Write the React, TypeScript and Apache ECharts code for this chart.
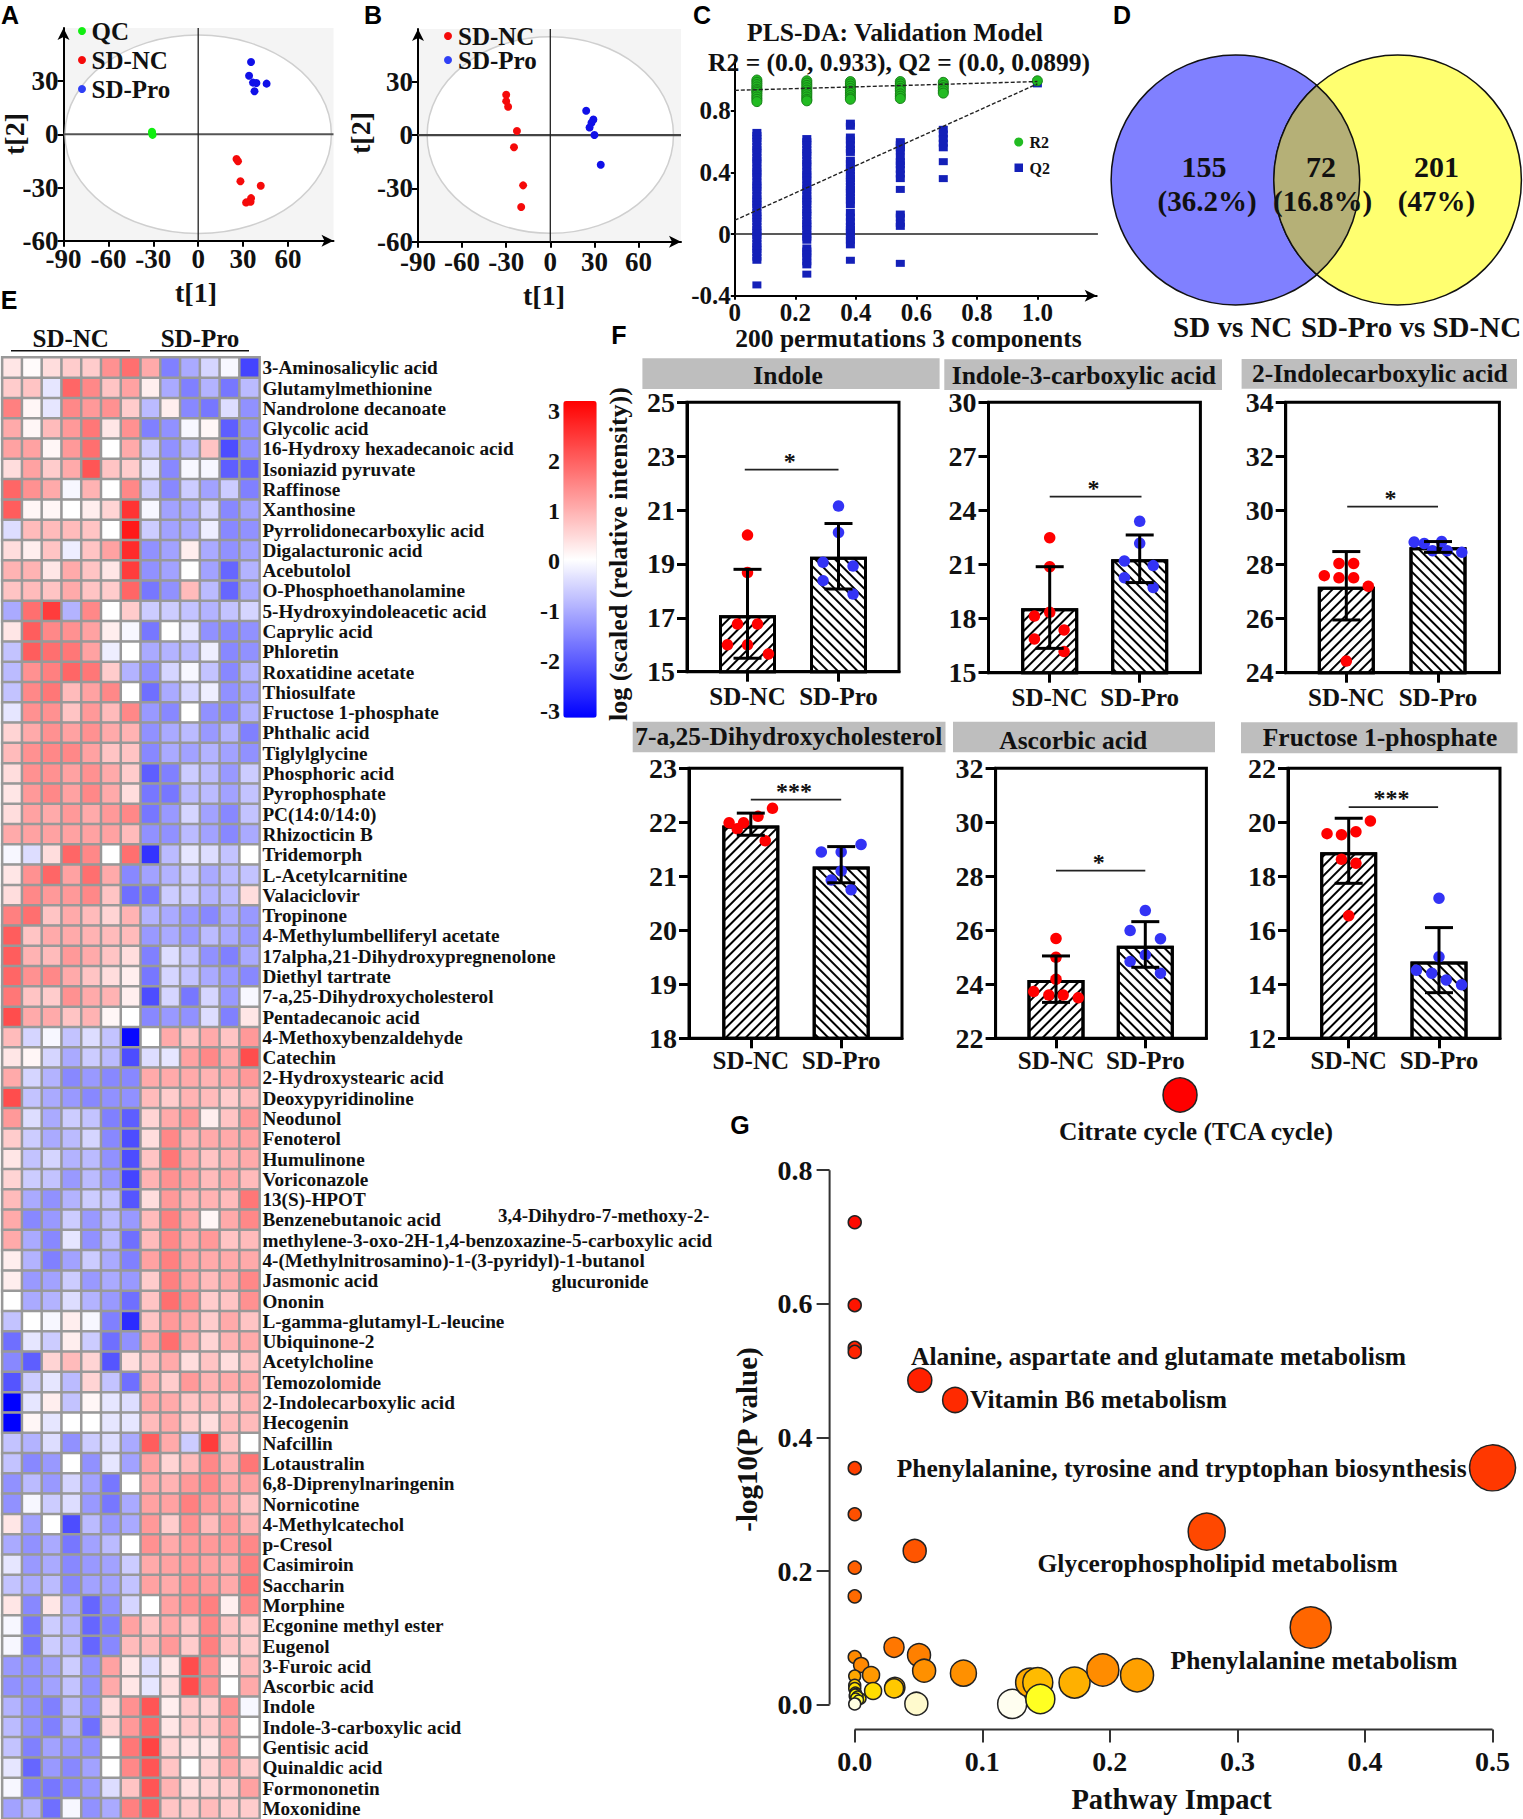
import React, { useEffect, useRef } from "react";
import * as echarts from "echarts";

const SERIF = "Liberation Serif";
const SANS = "Liberation Sans";

// ---------- Panel A / B scores ----------
const aQC = [[-30.8, 0.8], [-30.5, -0.3], [-30.9, 1.5]];
const aNC = [[25.6, -13.9], [26.6, -15.2], [28.2, -26.5], [41.8, -29], [35.3, -36], [35, -38], [32, -38.4]];
const aPro = [[35.3, 40.8], [34, 33.1], [36.6, 29.2], [38.9, 29], [45.7, 28.6], [37.6, 24.3]];
const bNC = [[-30, 22.7], [-30, 19.1], [-28.7, 15.9], [-22.7, 2.3], [-24.7, -6.8], [-18.5, -28.3], [-19.8, -40.5]];
const bPro = [[24.4, 13.7], [29.3, 8.8], [28, 6.9], [26.7, 4.3], [30, 0], [34.3, -16.7]];
const scoreXTicks = [-90, -60, -30, 0, 30, 60];
const scoreYTicks = [-60, -30, 0, 30];

// ---------- Panel C permutations ----------
const permX = [0.073, 0.238, 0.382, 0.547, 0.689, 1.0];
const r2Cols = [
  [1.0, 0.985, 0.97, 0.955, 0.94, 0.93, 0.92, 0.905, 0.89, 0.875, 0.86],
  [0.995, 0.98, 0.965, 0.95, 0.935, 0.92, 0.905, 0.89, 0.875, 0.865],
  [0.99, 0.975, 0.96, 0.945, 0.93, 0.915, 0.9, 0.885, 0.875],
  [0.99, 0.975, 0.96, 0.945, 0.93, 0.91, 0.895, 0.88],
  [0.985, 0.965, 0.95, 0.93, 0.915],
  [0.995],
];
const q2Cols = [
  [0.66, 0.64, 0.62, 0.6, 0.57, 0.55, 0.53, 0.5, 0.48, 0.46, 0.43, 0.41, 0.39, 0.37, 0.34, 0.32, 0.3, 0.28, 0.25, 0.23, 0.21, 0.19, 0.17, 0.14, 0.12, 0.1, 0.08, 0.05, 0.03, 0.01, -0.01, -0.03, -0.06, -0.08, -0.1, -0.12, -0.15, -0.17, -0.33],
  [0.62, 0.6, 0.58, 0.55, 0.53, 0.51, 0.48, 0.46, 0.44, 0.41, 0.39, 0.37, 0.35, 0.32, 0.3, 0.28, 0.25, 0.23, 0.21, 0.19, 0.16, 0.14, 0.12, 0.09, 0.07, 0.05, 0.03, 0.0, -0.02, -0.04, -0.09, -0.11, -0.13, -0.15, -0.18, -0.2, -0.26],
  [0.72, 0.7, 0.63, 0.61, 0.58, 0.55, 0.53, 0.48, 0.46, 0.43, 0.41, 0.38, 0.36, 0.34, 0.31, 0.29, 0.27, 0.24, 0.22, 0.19, 0.14, 0.11, 0.08, 0.05, 0.03, 0.01, -0.02, -0.04, -0.07, -0.17],
  [0.6, 0.58, 0.56, 0.54, 0.5, 0.47, 0.45, 0.42, 0.39, 0.36, 0.29, 0.13, 0.11, 0.07, 0.05, -0.19],
  [0.68, 0.65, 0.62, 0.59, 0.56, 0.47, 0.36],
  [0.975],
];
const r2Line = [[0, 0.933], [1, 0.99]];
const q2Line = [[0, 0.0899], [1, 0.975]];
const permXTicks = [0, 0.2, 0.4, 0.6, 0.8, 1.0];
const permYTicks = [-0.4, 0, 0.4, 0.8];

// ---------- Panel E heatmap ----------
const metabolites = [
  "3-Aminosalicylic acid", "Glutamylmethionine", "Nandrolone decanoate", "Glycolic acid", "16-Hydroxy hexadecanoic acid", "Isoniazid pyruvate",
  "Raffinose", "Xanthosine", "Pyrrolidonecarboxylic acid", "Digalacturonic acid", "Acebutolol", "O-Phosphoethanolamine",
  "5-Hydroxyindoleacetic acid", "Caprylic acid", "Phloretin", "Roxatidine acetate", "Thiosulfate", "Fructose 1-phosphate",
  "Phthalic acid", "Tiglylglycine", "Phosphoric acid", "Pyrophosphate", "PC(14:0/14:0)", "Rhizocticin B",
  "Tridemorph", "L-Acetylcarnitine", "Valaciclovir", "Tropinone", "4-Methylumbelliferyl acetate", "17alpha,21-Dihydroxypregnenolone",
  "Diethyl tartrate", "7-a,25-Dihydroxycholesterol", "Pentadecanoic acid", "4-Methoxybenzaldehyde", "Catechin", "2-Hydroxystearic acid",
  "Deoxypyridinoline", "Neodunol", "Fenoterol", "Humulinone", "Voriconazole", "13(S)-HPOT",
  "Benzenebutanoic acid", "methylene-3-oxo-2H-1,4-benzoxazine-5-carboxylic acid", "4-(Methylnitrosamino)-1-(3-pyridyl)-1-butanol", "Jasmonic acid", "Ononin", "L-gamma-glutamyl-L-leucine",
  "Ubiquinone-2", "Acetylcholine", "Temozolomide", "2-Indolecarboxylic acid", "Hecogenin", "Nafcillin",
  "Lotaustralin", "6,8-Diprenylnaringenin", "Nornicotine", "4-Methylcatechol", "p-Cresol", "Casimiroin",
  "Saccharin", "Morphine", "Ecgonine methyl ester", "Eugenol", "3-Furoic acid", "Ascorbic acid",
  "Indole", "Indole-3-carboxylic acid", "Gentisic acid", "Quinaldic acid", "Formononetin", "Moxonidine",
];
const heatValues = [
  [0.3, 0.05, 0.4, 0.6, 0.6, 1.3, 1.7, 1.0, -1.5, -1.0, -0.5, -0.1, -2.2],
  [0.6, 0.7, -0.3, 1.8, 1.4, 0.7, 1.1, 0.2, -1.0, -1.5, -0.9, -1.6, -0.8],
  [1.5, 0.1, -0.3, 1.4, 1.2, 1.3, 0.6, -0.8, 0.2, -1.4, -1.6, -0.4, -1.3],
  [1.0, 0.1, 0.8, 1.2, 1.6, 0.3, 1.3, -1.5, -1.3, -0.1, 0.1, -1.9, -1.3],
  [1.1, 1.1, 0.1, 1.2, 1.7, 0, 1.0, -0.6, -1.3, -0.8, 0.7, -2.1, -1.3],
  [0.4, 1.1, 0.6, 1.0, 2.0, 0.7, 0.6, -0.3, -1.4, -0.1, -0.1, -1.9, -1.8],
  [1.8, 1.3, 1.0, -0.1, 0.9, 0, 1.4, -0.6, -1.4, -0.6, -1.1, -0.6, -1.5],
  [1.9, 0.1, 0.1, 0, 0.2, 0.5, 2.4, -0.1, -1.1, -1, -0.5, -1.4, -1.1],
  [-0.4, 0.8, 0.8, 0.8, 0.7, 0, 2.7, -0.6, -1.1, -1, -0.2, -1.4, -1.3],
  [0.4, 0.2, 0.7, -0.2, 0.7, 1.1, 2.5, -1.3, -1.1, 0.2, -1.0, -1.3, -1.1],
  [0.9, 0.9, 0.3, 1.0, 0.7, 0.3, 2.3, -1.3, -1.1, 0, -1.1, -1.8, -0.9],
  [0.7, 0.8, 0.7, 1.0, 0.7, 0.6, 1.8, -1.6, -1.3, 0.8, -0.8, -1.8, -1],
  [-1.0, 1.7, 2.3, -0.9, 1.4, 0, 0.6, -0.6, -0.6, -0.7, -0.9, -0.7, -0.5],
  [0.3, 1.9, 1.4, 1.3, 1.1, 0.2, -0.1, -1.6, 0, -0.3, -1.3, -1.4, -1.3],
  [-0.7, 1.9, 1.7, 1.6, 1.1, -0.2, 0, -1, -0.9, -0.8, -0.2, -1.4, -1.3],
  [-0.8, 1.3, 1.5, 1.8, 1.6, 0.6, -0.9, -1.3, -0.5, -0.1, -0.7, -1.4, -0.9],
  [-0.7, 1.4, 1.6, 0.8, 1.1, 1.4, 0, -1.7, -1, -0.5, -0.2, -1.3, -1.1],
  [-0.3, 1.3, 1.3, 0.7, 1.2, 0.8, 1.4, -1.2, -1.4, 0, -1.3, -1.4, -0.9],
  [0.5, 1, 1.3, 1.1, 1.3, 1, 0.9, -1.3, -1, -0.8, -1.2, -0.9, -1.5],
  [0.8, 1.3, 1.4, 1.4, 1.1, 0.7, 0.7, -1.4, -1, -1.1, -0.9, -1.1, -1.3],
  [0.4, 1.3, 1.3, 1.1, 1.3, 1, 0.6, -1.9, -1.5, -0.6, -0.8, -1.2, -0.6],
  [0.3, 1.2, 1.4, 1.1, 1.4, 1, 0.4, -1.6, -1.6, -0.8, -0.8, -1.1, -0.7],
  [0.4, 1.1, 1, 1.2, 1, 1.2, 1.4, -1.6, -1.2, -0.5, -1.1, -1.4, -0.7],
  [1, 1.1, 1.1, 1.1, 1.1, 1.1, 0.8, -1.3, -1.3, -0.8, -1.1, -1.4, -1],
  [-0.1, -0.4, 0.4, 1.8, 1.4, 0, 1.7, -2.4, -0.8, -0.3, -0.4, -0.7, 0],
  [0.3, 1.3, 1.8, 1.1, 1.7, 1, -1.4, -1.1, -0.9, -0.6, -1, -0.8, -0.7],
  [0.4, 1.4, 1.2, 1.2, 1.4, 0.7, -1.7, -1.6, -0.6, -0.6, -0.9, -0.8, 0.4],
  [1.5, 1.7, 0.7, 1.0, 0.8, 0.5, 0.9, -0.9, -1, -1.2, -1.4, -1, -1.2],
  [1.9, 0.7, 1, 1, 0.9, 0.8, 0.8, -1.2, -1, -1.2, -0.8, -1, -1.2],
  [1.9, 0.9, 0.8, 1.2, 1, 0.7, 0.4, -1.5, -0.4, -0.7, -1.3, -1.5, -1],
  [1.8, 1.3, 1.4, 1, 0.7, 0.4, 0.2, -1.6, -0.5, -0.7, -1, -1.2, -1.4],
  [1.6, 0.7, 0.6, 1.3, 1, 0.9, 0.2, -2.1, -0.5, -1.6, -0.5, -1.2, -0.1],
  [2.1, 1, 1, 0.7, 0.9, 0.1, 0, -1.4, -1.2, -1.3, -0.4, -1.5, 0.3],
  [0.8, -0.5, -0.1, -0.7, -0.4, -0.7, -2.9, 0, 1, 0.7, 1, 0.7, 1.2],
  [0.3, 0.1, -0.5, -1, -0.6, -0.8, -2.1, -0.4, -0.3, 1.1, 1.4, 1, 2.1],
  [1, -0.5, -0.9, -1.4, -1.2, -1.4, -1.4, 1, 1, 1, 0.9, 1, 1.2],
  [2.1, -0.7, -1, -1.2, -1.4, -1.3, -1.3, 0.8, 0.6, 0.9, 0.8, 0.6, 0.8],
  [1.2, -0.4, -1, -0.6, -0.7, -1.5, -1.9, 0.5, 1, 1.2, 0.2, 0.7, 1.2],
  [0.6, -0.6, -1, -0.8, -0.5, -1.4, -2.1, 0.4, 1.4, 0.9, 1, 1, 1.1],
  [0.3, -0.7, -0.5, -0.9, -0.8, -1.3, -2.1, 0.7, 1.6, 1, 0.7, 0.9, 1],
  [0.5, -0.6, -0.7, -1.2, -0.8, -1.2, -2.2, 0.9, 1.3, 1.1, 0.8, 1, 0.8],
  [0.8, -1, -1.3, -0.9, -0.6, -0.7, -2, 0.4, 1.2, 0.9, 0.9, 0.8, 1.6],
  [1, -1.4, -1.2, -0.6, -1.2, -0.8, -1.2, 0.8, 1.5, 1, 0.1, 1, 1.4],
  [1, -1, -1.4, -0.3, -1.3, -0.8, -1.7, 0.8, 1.4, 1, 1.2, 0.7, 0.8],
  [0.2, -0.9, -1.5, -1.1, -0.6, -1, -1.5, 1.1, 1.5, 1.1, 1, 1, 1],
  [0.2, -1.2, -1.1, -0.6, -1.2, -1, -1.2, 0.6, 1.5, 1.1, 0.8, 1, 1.4],
  [0, -1, -0.9, -0.4, -0.9, -1.2, -1.7, 0.7, 1.7, 1.3, 0.6, 0.7, 1.3],
  [-0.7, 0, -0.1, 0.2, -0.1, -1.5, -2.5, 0.7, 1.2, 1, 0.6, 1, 0.7],
  [-1.7, -0.3, -0.6, 0.2, -0.6, -1.7, -1.3, 1, 1.7, 1, 0.5, 0.9, 1],
  [-1.4, -1.9, 0.5, 0.8, 0.5, -2, 0.4, 0.7, 1, 0.4, 0.7, 0.4, 0.7],
  [-2.0, -0.6, -0.3, -0.8, 0.5, -0.7, -1.7, 0.9, 0.6, 1.2, 0.9, 1, 1],
  [-3, -0.3, 0.2, -0.7, 0.1, -0.3, -0.4, 1, 1, 0.7, 0.8, 0.6, 0.9],
  [-3, 0.1, -0.3, 0, 0, -0.3, -0.3, 0.8, 1, 0.6, 0.4, 0.8, 0.8],
  [-0.7, -0.9, -0.4, -1.3, -0.6, -0.4, -1, 1.9, 1, -0.6, 2.3, 0.7, 0],
  [-0.7, -1.4, -1.2, 0, -1.3, -0.3, -1.1, 1.1, 0.5, 0.8, 1.4, 0.9, 1.6],
  [-1.3, -0.8, -1.2, -0.5, -1.1, -1.6, 0, 1, 0.9, 1.2, 1.4, 1, 1.1],
  [-1.3, -0.1, -0.6, -0.4, -1.2, -1.6, -1, 1.1, 1.1, 1.5, 1.2, 1, 0.7],
  [0.3, -1.1, 0, -2.1, -0.8, -1.2, -1, 1.2, 0.6, 1.3, 0.8, 1.2, 0.9],
  [-1, -1.3, -1, -1.6, -1.1, -0.8, 0, 1.3, 1, 1.2, 1.2, 1.2, 1.4],
  [-0.3, -1.2, -1, -1.4, -1.2, -1.1, -0.6, 1, 1.1, 1.2, 1.1, 1, 1.5],
  [-0.7, -1, -0.8, -1.4, -1.1, -1.1, -0.7, 1.1, 1, 1.3, 1.2, 1, 1.6],
  [0.3, -1.4, 0.3, -1, -1.8, -1.3, -0.5, 0, 1.1, 1.3, 1.5, 0.2, 1.4],
  [-0.1, -1.6, -0.6, -0.9, -1.8, -1.5, 1.1, 0.7, 1, 0.7, 1.4, 0.7, 0.6],
  [-0.1, -1.6, -0.6, -0.8, -1.8, -1.4, 0.8, 0.8, 1.2, 0.6, 1.5, 0.7, 0.6],
  [-1.2, -1.3, -1.1, -0.6, -1.3, 1.1, 0.3, -0.4, 0.3, 2.1, 1.3, 0.1, 0.8],
  [-1.3, -1.3, -1.1, -0.7, -1.3, 1, 0.3, -0.3, 0.4, 2.1, 1.3, 0, 1],
  [-0.9, -1.3, -1.5, -0.8, -1.3, 0.4, 1.3, 2.0, 0.2, 0.6, 0.5, 1.3, -0.1],
  [-0.8, -1.3, -1.5, -0.9, -1.7, 0.5, 1.2, 1.8, 0.3, 0.6, 0.6, 1.1, 0],
  [-0.7, -1.5, -1.1, -1.2, -1.3, 0, 1.6, 2.2, 0.5, 0.3, 0.3, 1.1, 0],
  [-0.3, -1.8, -1.2, -1.4, -1.1, 0, 1.4, 2, 0.7, 0, 0.5, 1, 0.6],
  [-0.1, -1.5, -1.6, -1.4, -1.2, -0.4, 0.7, 2, 0.9, 0.4, 0.5, 0.6, 1.1],
  [-1.1, -0.9, -1.7, -0.1, -1.3, -1, 1.5, 1.9, 0.7, 0.6, 0.8, 0.6, 0.6],
];
const heatColumns = ["1", "2", "3", "4", "5", "6", "7", "8", "9", "10", "11", "12", "13"];
const colorbarLabels = ["3", "2", "1", "0", "-1", "-2", "-3"];

// ---------- Panel F bars ----------
const groupNames = ["SD-NC", "SD-Pro"];
const indoleNC = [[1, 20.07], [1, 18.68], [0.89, 16.77], [1.11, 16.77], [0.78, 16], [1, 16], [1.23, 15.66]];
const indolePro = [[2, 21.15], [2, 20.17], [1.83, 19.06], [2.16, 18.92], [1.83, 18.38], [2.16, 17.88]];
const i3caNC = [[1, 22.49], [1, 20.88], [0.83, 18.14], [1, 18.35], [1.16, 17.37], [0.83, 16.87], [1.16, 16.17]];
const i3caPro = [[2, 23.4], [2, 22.18], [1.83, 21.2], [2.15, 20.94], [1.83, 20.27], [2.15, 19.72]];
const i2caNC = [[1, 24.43], [1.24, 27.2], [0.76, 27.59], [0.92, 27.51], [1.08, 27.51], [0.92, 28.04], [1.08, 28.04]];
const i2caPro = [[1.74, 28.83], [1.85, 28.78], [2.04, 28.85], [1.94, 28.51], [2.1, 28.51], [2.26, 28.45]];
const dhcNC = [[0.76, 21.99], [0.85, 21.88], [0.92, 21.99], [1.08, 22.11], [1.24, 22.26], [1.16, 21.66]];
const dhcPro = [[1.78, 21.45], [2, 21.45], [2.22, 21.59], [2, 21.1], [1.89, 20.93], [2.11, 20.75]];
const ascNC = [[1, 25.7], [1, 25], [1, 24.19], [0.75, 23.73], [0.92, 23.6], [1.08, 23.6], [1.25, 23.5]];
const ascPro = [[2, 26.73], [1.83, 25.99], [2.17, 25.69], [2, 25.09], [1.83, 24.84], [2.17, 24.41]];
const f1pNC = [[1.24, 20.05], [1.08, 19.65], [0.76, 19.58], [0.92, 19.54], [0.92, 18.63], [1.08, 18.48], [1, 16.54]];
const f1pPro = [[2, 17.19], [2, 15.02], [1.75, 14.52], [1.92, 14.41], [2.08, 14.16], [2.25, 13.98]];

const barPanels = [
  { title: "Indole", head: [642.4, 358.3, 939.6, 389], tx: 788, ty: 375.7, box: [687, 402.3, 899, 671.7], cx: [747.5, 838.5], ticks: [15, 17, 19, 21, 23, 25], means: [17.1, 19.27], errs: [[15.5, 18.8], [18.07, 20.5]], nc: indoleNC, pro: indolePro, sig: [0.97, 2, 22.5], stars: "*" },
  { title: "Indole-3-carboxylic acid", head: [944.3, 359.3, 1222, 390], tx: 1083.8, ty: 375.7, box: [988.5, 402.3, 1200.4, 672.7], cx: [1049.7, 1139.7], ticks: [15, 18, 21, 24, 27, 30], means: [18.57, 21.29], errs: [[16.35, 20.88], [20, 22.64]], nc: i3caNC, pro: i3caPro, sig: [1, 2.02, 24.77], stars: "*" },
  { title: "2-Indolecarboxylic acid", head: [1241.6, 359, 1517, 388.7], tx: 1379.8, ty: 373, box: [1285.7, 402.3, 1499.4, 672.7], cx: [1346.3, 1438], ticks: [24, 26, 28, 30, 32, 34], means: [27.18, 28.64], errs: [[25.95, 28.48], [28.45, 28.85]], nc: i2caNC, pro: i2caPro, sig: [1.01, 2, 30.14], stars: "*" },
  { title: "7-a,25-Dihydroxycholesterol", head: [632.7, 721.7, 945.5, 752.3], tx: 788.8, ty: 736.7, box: [689, 768.3, 902, 1038.3], cx: [750.8, 841.2], ticks: [18, 19, 20, 21, 22, 23], means: [21.94, 21.18], errs: [[21.76, 22.17], [20.88, 21.55]], nc: dhcNC, pro: dhcPro, sig: [1, 2, 22.42], stars: "***" },
  { title: "Ascorbic acid", head: [953, 721.7, 1215, 752.3], tx: 1073.3, ty: 740, box: [995.6, 768.3, 1206.4, 1038.3], cx: [1056, 1145.3], ticks: [22, 24, 26, 28, 30, 32], means: [24.16, 25.43], errs: [[23.33, 25.05], [24.63, 26.32]], nc: ascNC, pro: ascPro, sig: [1, 2, 28.21], stars: "*" },
  { title: "Fructose 1-phosphate", head: [1241, 722.3, 1517.5, 753.3], tx: 1380, ty: 737, box: [1288, 768.3, 1500, 1038.3], cx: [1348.7, 1439], ticks: [12, 14, 16, 18, 20, 22], means: [18.89, 14.84], errs: [[17.74, 20.15], [13.69, 16.1]], nc: f1pNC, pro: f1pPro, sig: [1, 1.99, 20.56], stars: "***" },
];

// ---------- Panel G pathway bubbles ----------
const pathImpact = [0, 0, 0, 0, 0, 0, 0, 0, 0.047, 0.051, 0.0787, 0.2759, 0.3574, 0.5, 0, 0.005, 0, 0.0128, 0.0308, 0.0504, 0.0544, 0.0315, 0.0308, 0.0144, 0.0852, 0.0483, 0.1234, 0.1375, 0.1435, 0.1455, 0.1723, 0.1945, 0.2213, 0, 0, 0.0005, 0.0045, 0, 0.0012, 0.0003, 0.0022, 0.0008, 0.003, 0, 0.255];
const pathLogP = [0.722, 0.598, 0.534, 0.528, 0.354, 0.285, 0.205, 0.162, 0.23, 0.4856, 0.456, 0.2589, 0.1154, 0.3544, 0.0713, 0.0593, 0.0428, 0.0443, 0.0858, 0.0742, 0.0507, 0.0258, 0.0242, 0.0204, 0.047, 0.0013, 0.001, 0.033, 0.033, 0.0084, 0.033, 0.0518, 0.044, 0.029, 0.024, 0.018, 0.009, 0.013, 0.016, 0.015, 0.012, 0.01, 0.007, 0.001, 0.9126];
const pathDiameter = [13, 13, 13, 13, 13, 13, 13, 13, 23, 24, 25, 37, 41, 46, 13, 15, 12, 17, 20, 23, 23, 20, 19, 17, 26, 23, 29, 29, 30, 29, 31, 32, 33, 12, 12, 11, 11, 11, 11, 11, 11, 10, 10, 12, 34];
const pathColor = ["#FF0A00", "#FF1400", "#FF2000", "#FF2400", "#FF4000", "#FF5000", "#FF6000", "#FF6A00", "#FF5500", "#FF2000", "#FF2A00", "#FF4800", "#FF6600", "#FF3800", "#FF8A00", "#FF8800", "#FFA800", "#FF9800", "#FF7700", "#FF8000", "#FF9000", "#FFAA00", "#FFC800", "#FFDD00", "#FF9000", "#FFFACD", "#FFFEF0", "#FFAA00", "#FFBB00", "#FFFF22", "#FFB000", "#FF8C00", "#FFA000", "#FFD000", "#FFE000", "#FFF000", "#FFEE00", "#FFF800", "#FFF000", "#FFF400", "#FFF800", "#FFFA00", "#FFFC40", "#FFFFE0", "#FF0000"];
const pathXTicks = [0, 0.1, 0.2, 0.3, 0.4, 0.5];
const pathYTicks = [0, 0.2, 0.4, 0.6, 0.8];

const legendA = [["QC", "#11EE11"], ["SD-NC", "#F50A0A"], ["SD-Pro", "#2F3FF5"]];
const legendB = [["SD-NC", "#F50A0A"], ["SD-Pro", "#2F3FF5"]];

// ---------- helpers ----------
const T = (x: number, y: number, text: string, size: number, o: any = {}) => ({
  type: "text", x, y, rotation: o.rot || 0, z: 20, silent: true,
  style: {
    text, fontSize: size, fontFamily: o.family || SERIF, fontWeight: "bold", fill: o.fill || "#111",
    textAlign: o.align || "center", align: o.align || "center", textVerticalAlign: "middle", verticalAlign: "middle",
  },
});

const vAxis = (gridIndex: number, min: number, max: number, ticks: number[], o: any = {}) => ({
  type: "value", gridIndex, min, max, scale: true, splitLine: { show: false }, splitArea: { show: false },
  axisLine: {
    show: o.noLine ? false : true, onZero: false,
    lineStyle: { color: o.color || "#000", width: o.width || 2 },
    symbol: o.arrow ? ["none", "arrow"] : "none", symbolSize: [9, 12],
  },
  axisTick: { show: true, inside: false, customValues: ticks, length: o.tick ?? 6, lineStyle: { color: o.color || "#000", width: o.width || 2 } },
  axisLabel: {
    show: true, customValues: ticks, fontFamily: SERIF, fontWeight: "bold", fontSize: o.size || 25, color: "#111",
    margin: o.margin ?? 8, formatter: o.fmt || ((v: number) => String(v)), hideOverlap: false,
  },
});

const lineS = (xi: number, data: number[][], color: string, width: number, type: any = "solid", z = 3) => ({
  type: "line", xAxisIndex: xi, yAxisIndex: xi, data, symbol: "none", silent: true, clip: false, z,
  lineStyle: { color, width, type }, animation: false,
});

const dots = (xi: number, data: number[][], color: string, size: any, extra: any = {}) => ({
  type: "scatter", xAxisIndex: xi, yAxisIndex: xi, data, symbol: "circle", symbolSize: size, silent: true, clip: false, z: 6,
  itemStyle: { color, opacity: 1, ...extra }, animation: false,
});

const ellipseS = (xi: number, cx: number, cy: number, rx: number, ry: number) => ({
  type: "custom", xAxisIndex: xi, yAxisIndex: xi, data: [[cx, cy]], silent: true, z: 1,
  renderItem: (_p: any, api: any) => {
    const c = api.coord([cx, cy]);
    const e = api.coord([cx + rx, cy + ry]);
    return { type: "ellipse", shape: { cx: c[0], cy: c[1], rx: Math.abs(e[0] - c[0]), ry: Math.abs(e[1] - c[1]) }, style: { fill: "#fff", stroke: "#cfcfcf", lineWidth: 1.5 } };
  },
});

function buildOption() {
  const grid: any[] = [];
  const xAxis: any[] = [];
  const yAxis: any[] = [];
  const series: any[] = [];
  const graphic: any[] = [];
  const add = (left: number, top: number, right: number, bottom: number, g: any = {}) => {
    grid.push({ left, top, width: right - left, height: bottom - top, containLabel: false, ...g });
    return grid.length - 1;
  };

  // panel letters
  ([["A", 10, 15], ["B", 373, 15], ["C", 702, 15], ["D", 1122, 15], ["E", 9, 300], ["F", 619, 335], ["G", 740, 1125]] as any[]).forEach(([t, x, y]) =>
    graphic.push(T(x, y, t, 25, { family: SANS, fill: "#000" }))
  );

  // Panel A
  {
    const g = add(63.5, 28, 333.5, 240.7, { show: true, backgroundColor: "#F4F4F4", borderWidth: 0 });
    xAxis.push(vAxis(g, -90, 90.4, scoreXTicks, { arrow: true, margin: 5, size: 27 }));
    yAxis.push(vAxis(g, -60, 60, scoreYTicks, { arrow: true, margin: 5, size: 27 }));
    series.push(ellipseS(g, 0, 0, 89, 56));
    series.push(lineS(g, [[-90, 0], [90.4, 0]], "#555", 2));
    series.push(lineS(g, [[0, -60], [0, 60]], "#222", 1.3));
    series.push(dots(g, aQC, "#11EE11", 8), dots(g, aNC, "#F50A0A", 8), dots(g, aPro, "#1010E8", 8));
    graphic.push(T(196, 292.7, "t[1]", 28), T(14.5, 134, "t[2]", 28, { rot: Math.PI / 2 }));
    legendA.forEach(([n, c], i) => {
      const y = 31 + i * 29;
      graphic.push({ type: "circle", shape: { cx: 82, cy: y, r: 4 }, style: { fill: c }, z: 20, silent: true });
      graphic.push(T(91.5, y, n, 25, { align: "left" }));
    });
  }
  // Panel B
  {
    const g = add(418, 29, 681, 241.7, { show: true, backgroundColor: "#F4F4F4", borderWidth: 0 });
    xAxis.push(vAxis(g, -90, 88.9, scoreXTicks, { arrow: true, margin: 7, size: 27 }));
    yAxis.push(vAxis(g, -60, 59.7, scoreYTicks, { arrow: true, margin: 5, size: 27 }));
    series.push(ellipseS(g, 0, 0, 83.8, 55.3));
    series.push(lineS(g, [[-90, 0], [88.9, 0]], "#444", 2.2));
    series.push(lineS(g, [[0, -60], [0, 59.7]], "#222", 1.3));
    series.push(dots(g, bNC, "#F50A0A", 8), dots(g, bPro, "#1010E8", 8));
    graphic.push(T(544, 295, "t[1]", 28), T(360, 133, "t[2]", 28, { rot: Math.PI / 2 }));
    legendB.forEach(([n, c], i) => {
      const y = 36 + i * 24;
      graphic.push({ type: "circle", shape: { cx: 448, cy: y, r: 4 }, style: { fill: c }, z: 20, silent: true });
      graphic.push(T(458, y, n, 25, { align: "left" }));
    });
  }
  // Panel C
  {
    const g = add(734.8, 60, 1096.7, 295.7);
    const fmtC = (v: number) => (v === 0 ? "0" : v.toFixed(1));
    xAxis.push(vAxis(g, 0, 1.196, permXTicks, { arrow: true, margin: 4, size: 25, tick: 4, fmt: fmtC }));
    yAxis.push(vAxis(g, -0.4, 1.13, permYTicks, { margin: 4, size: 25, tick: 4, fmt: fmtC }));
    series.push(lineS(g, [[0, 0], [1.2, 0]], "#222", 1.5));
    q2Cols.forEach((c, i) => series.push({
      type: "scatter", xAxisIndex: g, yAxisIndex: g, symbol: "rect", symbolSize: [9, 7], silent: true, clip: false, z: 4,
      itemStyle: { color: "#1420B8", opacity: 1 }, data: c.map((v) => [permX[i], v]),
    }));
    r2Cols.forEach((c, i) => series.push(dots(g, c.map((v) => [permX[i], v]), "#22BB22", 10, { borderColor: "#178017", borderWidth: 1 })));
    series.push(lineS(g, r2Line, "#222", 1.4, [4, 2], 8), lineS(g, q2Line, "#222", 1.4, [4, 2], 8));
    graphic.push(T(895, 32, "PLS-DA: Validation Model", 25.6), T(899, 62, "R2 = (0.0, 0.933), Q2 = (0.0, 0.0899)", 25.5));
    graphic.push(T(908.5, 338, "200 permutations 3 components", 25.5));
    graphic.push({ type: "circle", shape: { cx: 1018.7, cy: 142, r: 4.5 }, style: { fill: "#22BB22" }, z: 20, silent: true });
    graphic.push({ type: "rect", shape: { x: 1014.5, y: 163.5, width: 8.5, height: 8.5 }, style: { fill: "#1420B8" }, z: 20, silent: true });
    graphic.push(T(1029.5, 142, "R2", 16, { align: "left" }), T(1029.5, 168, "Q2", 16, { align: "left" }));
  }
  // Panel D
  {
    graphic.push({ type: "ellipse", shape: { cx: 1235.6, cy: 180, rx: 124.5, ry: 125 }, style: { fill: "#8080FF", stroke: "#111", lineWidth: 1.5 }, z: 1, silent: true });
    graphic.push({ type: "ellipse", shape: { cx: 1397.7, cy: 180, rx: 123.7, ry: 125 }, style: { fill: "#FFFF70", stroke: "#111", lineWidth: 1.5 }, z: 2, silent: true });
    graphic.push({ type: "vennLens", x: 0, y: 0, z: 3, silent: true, style: { fill: "#B5B077", stroke: "#111", lineWidth: 1.5 } });
    graphic.push(T(1204, 166, "155", 30), T(1207, 201, "(36.2%)", 29), T(1321, 166, "72", 30), T(1322.5, 201, "(16.8%)", 29), T(1436.5, 166, "201", 30), T(1436.5, 201, "(47%)", 29));
    graphic.push(T(1232.7, 327, "SD vs NC", 29), T(1411, 327, "SD-Pro vs SD-NC", 29));
  }
  // Panel E
  let heatIdx = 0;
  {
    const g = add(2.4, 357.6, 259.4, 1818.5);
    xAxis.push({ type: "category", gridIndex: g, data: heatColumns, show: false });
    yAxis.push({
      type: "category", gridIndex: g, data: metabolites, inverse: true, position: "right",
      axisLine: { show: false }, axisTick: { show: false }, splitLine: { show: false },
      axisLabel: { interval: 0, fontFamily: SERIF, fontWeight: "bold", fontSize: 19.2, color: "#111", margin: 3 },
    });
    const data: number[][] = [];
    heatValues.forEach((row, r) => row.forEach((v, c) => data.push([c, r, v])));
    heatIdx = series.length;
    series.push({
      type: "heatmap", xAxisIndex: g, yAxisIndex: g, data, silent: true,
      itemStyle: { borderColor: "#999", borderWidth: 2.5 }, progressive: 0,
    });
    graphic.push(T(70.7, 338, "SD-NC", 25), T(200, 338, "SD-Pro", 25));
    graphic.push({ type: "line", shape: { x1: 11, y1: 350.7, x2: 130, y2: 350.7 }, style: { stroke: "#111", lineWidth: 1.6 }, silent: true });
    graphic.push({ type: "line", shape: { x1: 150, y1: 350.7, x2: 249, y2: 350.7 }, style: { stroke: "#111", lineWidth: 1.6 }, silent: true });
    graphic.push(T(498, 1215, "3,4-Dihydro-7-methoxy-2-", 19, { align: "left" }), T(551.7, 1281.7, "glucuronide", 19, { align: "left" }));
    colorbarLabels.forEach((t, i) => graphic.push(T(560, 410.7 + i * 50.05, t, 24, { align: "right" })));
    graphic.push(T(618, 554, "log (scaled (relative intensity))", 26, { rot: Math.PI / 2 }));
  }
  // Panel F
  barPanels.forEach((p) => {
    const [l, t, r, b] = p.box;
    const pitch = p.cx[1] - p.cx[0];
    const xMin = 1 - (p.cx[0] - l) / pitch;
    const xMax = xMin + (r - l) / pitch;
    const g = add(l, t, r, b, { show: true, borderColor: "#000", borderWidth: 3, backgroundColor: "transparent" });
    xAxis.push(vAxis(g, xMin, xMax, [1, 2], { width: 3, tick: 10, margin: b < 700 ? 12 : 10, size: 25, fmt: (v: number) => groupNames[v - 1] || "" }));
    yAxis.push(vAxis(g, p.ticks[0], p.ticks[5], p.ticks, { width: 3, tick: 10, margin: 12, size: 28 }));
    graphic.push({ type: "rect", shape: { x: p.head[0], y: p.head[1], width: p.head[2] - p.head[0], height: p.head[3] - p.head[1] }, style: { fill: "#BEBEBE" }, z: 5, silent: true });
    graphic.push(T(p.tx, p.ty, p.title, 25.5));
    const decal = (rot: number) => ({ symbol: "rect", symbolSize: 1, color: "#000", backgroundColor: "#fff", dashArrayX: [1, 0], dashArrayY: [2, 5], rotation: rot });
    series.push({
      type: "bar", xAxisIndex: g, yAxisIndex: g, barWidth: 57, silent: true, z: 2,
      data: [
        { value: [1, p.means[0]], itemStyle: { decal: decal(-Math.PI / 4) } },
        { value: [2, p.means[1]], itemStyle: { decal: decal(Math.PI / 4) } },
      ],
      itemStyle: { color: "#fff", borderColor: "#000", borderWidth: 3 },
    });
    series.push(dots(g, p.nc, "#FF0000", 11.5), dots(g, p.pro, "#3333F5", 11.5));
    series.push({
      type: "custom", xAxisIndex: g, yAxisIndex: g, silent: true, z: 7,
      data: p.errs.map((e, i) => [i + 1, e[0], e[1]]),
      renderItem: (_q: any, api: any) => {
        const x = api.value(0);
        const lo = api.coord([x, api.value(1)]);
        const hi = api.coord([x, api.value(2)]);
        const s = { stroke: "#000", lineWidth: 3 };
        const L = (x1: number, y1: number, x2: number, y2: number) => ({ type: "line", shape: { x1, y1, x2, y2 }, style: s });
        return { type: "group", children: [L(lo[0], lo[1], hi[0], hi[1]), L(lo[0] - 14, lo[1], lo[0] + 14, lo[1]), L(hi[0] - 14, hi[1], hi[0] + 14, hi[1])] };
      },
    });
    series.push({
      type: "custom", xAxisIndex: g, yAxisIndex: g, silent: true, z: 7, data: [p.sig],
      renderItem: (_q: any, api: any) => {
        const a = api.coord([api.value(0), api.value(2)]);
        const c = api.coord([api.value(1), api.value(2)]);
        return {
          type: "group", children: [
            { type: "line", shape: { x1: a[0], y1: a[1], x2: c[0], y2: c[1] }, style: { stroke: "#222", lineWidth: 1.8 } },
            { type: "text", style: { text: p.stars, x: (a[0] + c[0]) / 2 - 2, y: a[1] - 9, align: "center", textAlign: "center", verticalAlign: "middle", textVerticalAlign: "middle", fontFamily: SERIF, fontWeight: "bold", fontSize: 24, fill: "#111" } },
          ],
        };
      },
    });
  });
  // Panel G
  {
    const g = add(829.6, 1075, 1520, 1729.4);
    const xMin = -0.0197, yMin = -0.0371, xMax = 0.5215, yMax = 0.9425;
    const fmtG = (v: number) => v.toFixed(1);
    xAxis.push(vAxis(g, xMin, xMax, pathXTicks, { noLine: true, color: "#333", tick: 13, margin: 18, size: 28, fmt: fmtG }));
    yAxis.push(vAxis(g, yMin, yMax, pathYTicks, { noLine: true, color: "#333", tick: 13, margin: 17, size: 28, fmt: fmtG }));
    series.push(lineS(g, [[0, yMin], [0.5, yMin]], "#333", 2), lineS(g, [[xMin, 0], [xMin, 0.8]], "#333", 2));
    series.push({
      type: "scatter", xAxisIndex: g, yAxisIndex: g, silent: true, clip: false, z: 6, symbol: "circle",
      data: pathImpact.map((x, i) => [x, pathLogP[i]]),
      symbolSize: (_v: any, q: any) => pathDiameter[q.dataIndex],
      itemStyle: { color: (q: any) => pathColor[q.dataIndex], borderColor: "#222", borderWidth: 1.5, opacity: 1 },
    });
    graphic.push(T(1196, 1131, "Citrate cycle (TCA cycle)", 25.5));
    graphic.push(T(911, 1356, "Alanine, aspartate and glutamate metabolism", 25.5, { align: "left" }));
    graphic.push(T(970, 1399, "Vitamin B6 metabolism", 25.5, { align: "left" }));
    graphic.push(T(896.7, 1468, "Phenylalanine, tyrosine and tryptophan biosynthesis", 25.5, { align: "left" }));
    graphic.push(T(1037.5, 1563, "Glycerophospholipid metabolism", 25.5, { align: "left" }));
    graphic.push(T(1170.6, 1660.5, "Phenylalanine metabolism", 25.5, { align: "left" }));
    graphic.push(T(746.6, 1439.5, "-log10(P value)", 29, { rot: Math.PI / 2 }));
    graphic.push(T(1171.6, 1799.5, "Pathway Impact", 28.5));
  }

  return {
    animation: false,
    backgroundColor: "#fff",
    textStyle: { fontFamily: SERIF },
    tooltip: { show: false },
    grid, xAxis, yAxis, series,
    graphic: { elements: graphic },
    visualMap: {
      type: "continuous", min: -3, max: 3, seriesIndex: heatIdx, calculable: false, show: true, padding: 0,
      left: 563.3, top: 401, itemWidth: 33.4, itemHeight: 316.7, text: ["", ""], hoverLink: false,
      inRange: { color: ["#0000FF", "#FFFFFF", "#FF0000"] },
    },
  };
}

export default function App() {
  const ref = useRef<HTMLDivElement>(null);
  useEffect(() => {
    document.body.style.margin = "0";
    echarts.graphic.registerShape(
      "vennLens",
      echarts.graphic.extendPath("M1316.6 85.4 A123.7 125 0 0 0 1316.6 274.6 A124.5 125 0 0 0 1316.6 85.4 Z", {})
    );
    const chart = echarts.init(ref.current!, null, { renderer: "svg", width: 1523, height: 1819 });
    chart.setOption(buildOption() as any);
    return () => chart.dispose();
  }, []);
  return <div ref={ref} style={{ position: "absolute", left: 0, top: 0, width: 1523, height: 1819 }} />;
}
